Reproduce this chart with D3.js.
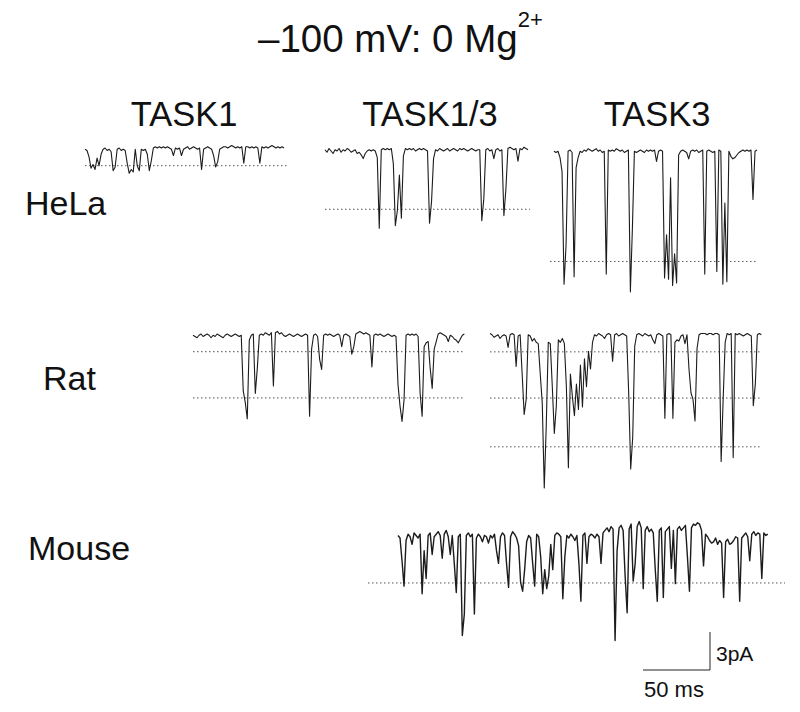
<!DOCTYPE html>
<html>
<head>
<meta charset="utf-8">
<title>TASK channel openings at -100 mV</title>
<style>
  body { margin: 0; background: #fff; }
  text { font-family: "Liberation Sans", Arial, sans-serif; fill: #111; }
  .trace { fill: none; stroke: #1c1c1c; stroke-width: 1; stroke-linejoin: round; }
  .level { stroke: #555; stroke-width: 1; stroke-dasharray: 1.5,2.5; }
  .bar { stroke: #222; stroke-width: 1; fill: none; }
</style>
</head>
<body>
<div id="chart"></div>
<script src="https://d3js.org/d3.v7.min.js"></script>
<script>
// current samples in pA, one every 1.5 ms
var sampleMs = 1.5;

var helaTask1 = [
  0.1, 0.0, -0.5, -1.4, -1.1, -1.5, -0.6, -1.2, -0.3, 0.1,
  0.2, 0.0, 0.1, -0.1, -1.6, -1.3, 0.1, 0.2, 0.0, 0.1,
  0.0, -1.0, -1.8, -1.5, -1.7, 0.1, -1.2, -1.6, 0.1, 0.0,
  0.1, -0.3, -1.6, -0.8, 0.2, 0.3, 0.2, 0.3, 0.2, 0.3,
  0.2, 0.3, 0.2, 0.1, -0.4, 0.2, 0.1, 0.2, -0.4, 0.1,
  0.2, 0.3, 0.1, 0.2, 0.3, 0.2, 0.1, 0.2, -1.5, 0.1,
  0.2, 0.3, 0.2, 0.1, -0.4, -1.3, -0.9, 0.1, 0.2, 0.3,
  0.3, 0.2, 0.3, 0.4, 0.3, 0.2, 0.3, 0.2, 0.3, -1.0,
  0.3, 0.3, 0.2, 0.3, 0.2, 0.3, 0.2, -1.0, 0.3, 0.2,
  0.3, 0.2, 0.3, 0.4, 0.3, 0.2, 0.3, 0.2, 0.3, 0.2
];
var helaTask1Levels = [-1.2];

var helaTask13 = [
  0.1, -0.1, 0.2, 0.0, -0.2, 0.1, 0.0, 0.2, -0.1, 0.1,
  0.0, 0.2, 0.1, -0.1, 0.0, 0.1, -0.2, -0.1, -0.3, -0.6,
  -0.2, 0.0, 0.1, 0.0, 0.1, 0.0, -0.5, -6.1, 0.1, 0.2,
  0.1, 0.2, 0.1, 0.2, -1.0, -5.9, -4.7, -1.9, -5.3, -0.4,
  0.2, 0.1, 0.2, 0.1, 0.2, 0.0, 0.1, 0.2, 0.1, 0.2,
  0.1, 0.0, -5.7, -4.0, -0.6, 0.1, 0.0, 0.2, 0.1, 0.0,
  0.1, 0.2, 0.0, 0.1, 0.2, 0.1, 0.0, 0.2, 0.1, 0.2,
  0.1, 0.0, 0.1, 0.2, 0.1, 0.0, 0.1, 0.1, -5.5, -3.8,
  0.1, 0.2, 0.0, 0.1, -0.6, 0.1, 0.2, 0.0, 0.1, -5.1,
  -3.0, 0.2, 0.3, 0.2, 0.1, 0.2, -0.8, 0.2, 0.1, 0.3,
  0.2, 0.1
];
var helaTask13Levels = [-4.6];

var helaTask3 = [
  0.1, 0.0, 0.1, -0.4, -1.5, -10.4, -7.3, 0.1, 0.2, 0.0,
  -9.8, -1.2, -0.4, 0.1, 0.0, 0.2, 0.1, 0.3, 0.2, 0.1,
  0.2, 0.3, 0.1, 0.2, 0.0, 0.1, -9.6, 0.2, 0.1, 0.2,
  0.1, 0.3, 0.2, 0.1, 0.2, 0.0, 0.1, 0.2, -11.0, -6.0,
  0.1, 0.0, 0.1, 0.2, 0.1, 0.0, 0.2, 0.1, 0.2, 0.1,
  0.2, -0.7, 0.1, 0.2, 0.1, -9.9, -6.5, -10.0, -2.0, -10.5,
  -8.0, -10.3, -0.2, 0.1, 0.2, 0.1, 0.0, -0.5, 0.1, 0.2,
  0.1, 0.2, 0.0, 0.1, 0.2, -9.6, 0.1, 0.2, 0.1, 0.0,
  0.1, -9.4, 0.2, 0.1, -10.4, -4.0, -10.2, 0.1, -0.3, -0.5,
  -0.4, -0.2, 0.0, 0.1, 0.2, 0.1, 0.2, 0.1, 0.2, -3.7,
  0.1, 0.2
];
var helaTask3Levels = [-8.6];

var ratTask13 = [
  0.1, 0.0, -0.1, 0.1, 0.2, 0.0, 0.1, 0.2, 0.1, -0.1,
  0.1, 0.0, 0.2, 0.1, 0.0, -0.1, 0.1, 0.2, 0.1, 0.0,
  0.1, 0.2, 0.1, 0.0, 0.1, -4.3, -5.2, -6.5, -0.3, 0.1,
  0.2, -4.5, -2.5, 0.1, 0.2, 0.1, 0.3, 0.2, 0.1, 0.3,
  -3.9, 0.3, 0.4, 0.2, 0.3, 0.1, 0.0, 0.1, 0.2, 0.1,
  0.0, 0.1, 0.2, 0.1, 0.0, 0.1, 0.2, 0.1, -6.3, -1.0,
  0.1, 0.2, 0.0, -1.8, -2.6, 0.1, 0.2, 0.1, 0.2, 0.1,
  0.0, 0.1, 0.2, 0.1, -0.8, 0.1, 0.2, 0.1, 0.0, -1.4,
  -0.8, 0.2, 0.3, 0.4, 0.3, 0.2, 0.3, 0.2, 0.1, -2.4,
  0.1, 0.2, 0.1, 0.2, 0.1, 0.0, 0.1, 0.2, 0.1, 0.0,
  0.1, 0.0, -3.8, -5.5, -6.7, -5.0, 0.1, 0.2, 0.1, 0.2,
  0.1, 0.2, 0.0, -4.5, -6.3, -0.8, -0.5, -0.4, -2.5, -4.1,
  -1.0, -0.4, 0.2, 0.3, 0.2, 0.1, 0.0, -0.4, 0.1, 0.0,
  -0.2, -0.3, -0.5, -0.2, 0.1, 0.2
];
var ratTask13Levels = [-1.2, -4.85];

var ratTask3 = [
  0.2, 0.1, -0.1, 0.0, 0.1, -0.2, 0.0, 0.1, 0.0, -0.9,
  0.1, 0.2, 0.1, -2.4, 0.0, 0.1, -3.0, -6.2, -5.0, 0.1,
  0.0, -0.4, -0.2, -0.5, -0.6, -3.0, -5.3, -12.0, -7.0, -0.5,
  -0.6, -4.0, -7.7, -5.5, -0.3, -0.5, -0.2, -0.6, -4.0, -10.4,
  -3.0, -4.8, -6.3, -3.8, -5.8, -2.3, -5.6, -1.8, -4.0, -1.2,
  -2.6, -0.5, 0.1, 0.0, 0.2, 0.1, 0.0, -0.2, 0.1, 0.2,
  0.1, -2.0, 0.1, 0.2, 0.0, 0.1, 0.2, 0.1, 0.0, -4.5,
  -10.5, -8.0, -0.8, 0.1, 0.2, 0.1, 0.0, 0.2, 0.1, 0.0,
  0.1, -0.3, -0.6, 0.1, 0.2, 0.1, 0.0, -6.5, 0.1, 0.2,
  0.1, -6.5, -0.5, -0.3, -0.4, 0.0, 0.1, -0.6, 0.1, -2.6,
  -4.5, -5.0, -6.7, -1.0, 0.1, 0.2, 0.2, 0.2, 0.1, 0.2,
  0.2, 0.1, 0.2, 0.2, 0.1, -9.9, -5.0, -0.5, 0.2, 0.1,
  0.2, -9.6, 0.2, 0.1, 0.2, 0.1, 0.0, 0.1, 0.2, 0.1,
  0.0, -5.5, -3.8, 0.1, 0.2, 0.1
];
var ratTask3Levels = [-1.25, -4.9, -8.75];

var mouseTask3 = [
  0.2, 0.0, -1.8, -3.8, -0.2, 0.3, 0.1, -0.5, 0.4, 0.2,
  0.0, 0.3, -4.4, -1.0, -3.2, 0.2, 0.4, -1.3, 0.1, 0.3,
  0.5, 0.2, -1.6, 0.3, 0.6, 0.1, -1.3, 0.2, -2.0, -4.3,
  0.1, 0.3, -7.7, -6.0, 0.2, 0.4, 0.1, 0.3, -6.0, 0.0,
  0.3, 0.1, -0.3, 0.2, 0.1, -0.4, 0.2, 0.0, 0.3, -1.0,
  -2.0, 0.1, 0.4, 0.2, -2.0, -3.9, 0.1, 0.5, 0.3, 0.0,
  -0.6, -3.5, -4.2, -2.5, -0.3, 0.2, 0.0, -2.0, -3.8, 0.3,
  0.1, -1.5, -4.4, -2.5, -4.0, -3.0, -0.5, -2.5, 0.2, 0.4,
  0.3, 0.1, -4.8, -1.5, 0.2, 0.0, 0.3, 0.1, -0.2, 0.2,
  -2.0, -5.0, 0.2, 0.4, -2.0, 0.1, 0.3, 0.2, 0.0, 0.3,
  0.1, -2.0, 0.4, 0.6, 0.8, 0.5, 0.9, 0.7, -8.1, -1.0,
  0.8, 1.0, 0.6, -3.0, -5.9, 0.7, 1.1, -3.4, -2.0, 0.9,
  1.3, 0.8, -4.0, 0.6, 0.9, 0.5, 0.7, 0.4, -2.5, -5.0,
  0.6, 0.8, -4.7, 0.5, 0.7, 0.9, -2.4, 0.6, -3.6, 0.7,
  0.9, 0.6, 0.8, 1.0, -1.5, -4.2, 0.8, 1.1, 1.0, 1.2,
  1.1, 0.6, -2.2, 0.3, 0.1, -0.2, -0.4, -0.3, 0.0, -0.5,
  -0.2, -0.4, -4.7, -0.3, -0.1, -0.5, -0.4, -0.2, 0.1, 0.0,
  -5.0, 0.0, 0.2, 0.4, 0.1, -1.8, 0.3, 0.5, 0.2, 0.4,
  0.3, -3.2, 0.4, 0.2, 0.3
];
var mouseTask3Levels = [-3.55];

var columnLabels = ["TASK1", "TASK1/3", "TASK3"];
var rowLabels = ["HeLa", "Rat", "Mouse"];
var scaleBarMs = 50, scaleBarPa = 3;

var width = 800, height = 712;

// 50 ms -> 67 px, 3 pA -> 38 px
var x = d3.scaleLinear().domain([0, 50]).range([0, 67]);
var y = d3.scaleLinear().domain([0, -3]).range([0, 38]);

var svg = d3.select("#chart").append("svg")
    .attr("width", width)
    .attr("height", height);

// title
var title = svg.append("text")
    .attr("x", 258).attr("y", 52)
    .style("font-size", "38.5px");
title.append("tspan").text("\u2013100 mV: 0 Mg");
title.append("tspan").attr("dy", -25).style("font-size", "22px").text("2+");

// column headings
var colX = [184, 430, 657];
svg.selectAll(".col").data(columnLabels).enter().append("text")
    .attr("class", "col")
    .attr("x", (d, i) => colX[i]).attr("y", 126)
    .attr("text-anchor", "middle")
    .style("font-size", "34.5px")
    .text(d => d);

// row labels
var rowPos = [[25, 215], [43, 390], [28, 560]];
svg.selectAll(".row").data(rowLabels).enter().append("text")
    .attr("class", "row")
    .attr("x", (d, i) => rowPos[i][0]).attr("y", (d, i) => rowPos[i][1])
    .style("font-size", "34px")
    .text(d => d);

// trace layout: left edge, baseline y, dotted line extent
var traces = [
  { data: helaTask1,  levels: helaTask1Levels,  left: 85,  base: 150.5, dot: [85, 287] },
  { data: helaTask13, levels: helaTask13Levels, left: 325, base: 151,   dot: [325, 530] },
  { data: helaTask3,  levels: helaTask3Levels,  left: 554, base: 152.5, dot: [550, 758] },
  { data: ratTask13,  levels: ratTask13Levels,  left: 193, base: 336.5, dot: [193, 465] },
  { data: ratTask3,   levels: ratTask3Levels,   left: 490, base: 336,   dot: [490, 762] },
  { data: mouseTask3, levels: mouseTask3Levels, left: 398, base: 538,   dot: [368, 785], thick: true }
];

var line = d3.line()
    .x((d, i) => x(i * sampleMs))
    .y(d => y(d));

traces.forEach(function (tr) {
  var g = svg.append("g")
      .attr("transform", "translate(" + tr.left + "," + tr.base + ")");

  // dotted open levels
  g.selectAll(".level").data(tr.levels).enter().append("line")
      .attr("class", "level")
      .attr("x1", tr.dot[0] - tr.left).attr("x2", tr.dot[1] - tr.left)
      .attr("y1", d => y(d)).attr("y2", d => y(d));

  g.append("path")
      .datum(tr.data)
      .attr("class", "trace")
      .style("stroke-width", tr.thick ? 1.4 : 1.1)
      .attr("d", line);
});

// scale bar
var bar = svg.append("g").attr("transform", "translate(710,670)");
bar.append("path")
    .attr("class", "bar")
    .attr("d", "M" + (-x(scaleBarMs)) + ",0H0V" + (-y(-scaleBarPa)));
bar.append("text")
    .attr("x", 6).attr("y", -9)
    .style("font-size", "21px")
    .text(scaleBarPa + "pA");
bar.append("text")
    .attr("x", -x(scaleBarMs) + 1).attr("y", 27)
    .style("font-size", "22px")
    .text(scaleBarMs + " ms");
</script>
</body>
</html>
